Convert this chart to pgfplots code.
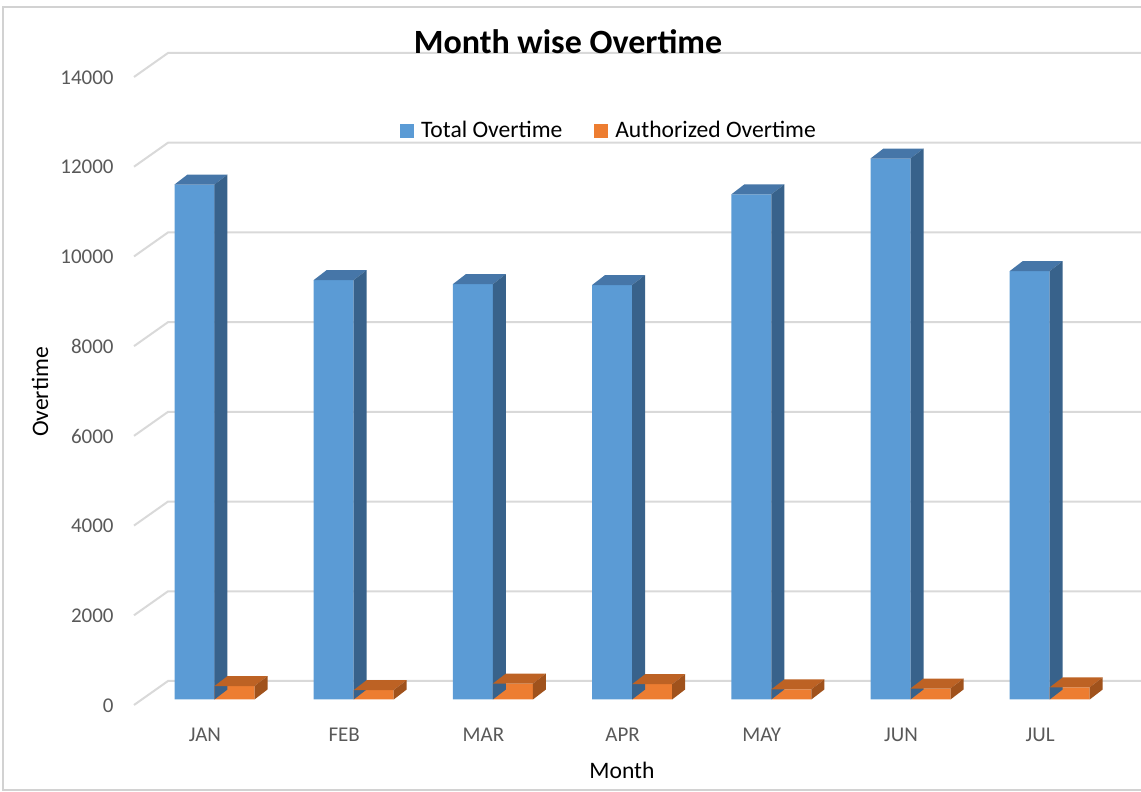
\documentclass[border=0pt]{standalone}
\usepackage{pgfplots}
\pgfplotsset{compat=1.18}
\usepackage{pgfplotstable}
\usepackage{fontspec}
\setmainfont{Carlito}

\definecolor{bfront}{HTML}{5B9BD5}
\definecolor{btop}{HTML}{4676A8}
\definecolor{bside}{HTML}{38628B}
\definecolor{ofront}{HTML}{ED7D31}
\definecolor{otop}{HTML}{BD6224}
\definecolor{oside}{HTML}{A0521C}
\definecolor{gridc}{HTML}{D9D9D9}
\definecolor{tickc}{HTML}{595959}

\pgfplotstableread{
m blue orange
JAN 11480 300
FEB 9350 210
MAR 9260 355
APR 9240 340
MAY 11260 225
JUN 12060 245
JUL 9550 270
}\data

% top and side faces of a 3D column; the mark sits at the top-right front corner
\newcommand\defbarmark[3]{%
\pgfdeclareplotmark{#1}{%
  \pgfsetfillcolor{#2}%
  \pgfpathmoveto{\pgfpoint{0pt}{0pt}}%
  \pgfpathlineto{\pgfpoint{-20pt}{0pt}}%
  \pgfpathlineto{\pgfpoint{-13.5pt}{5pt}}%
  \pgfpathlineto{\pgfpoint{6.5pt}{5pt}}%
  \pgfpathclose
  \pgfusepath{fill}%
  \pgfsetfillcolor{#3}%
  \pgfpathmoveto{\pgfpoint{0pt}{0pt}}%
  \pgfpathlineto{\pgfpoint{6.5pt}{5pt}}%
  \pgfpathlineto{\pgfpoint{6.5pt}{5pt-\hpt pt}}%
  \pgfpathlineto{\pgfpoint{0pt}{-\hpt pt}}%
  \pgfpathclose
  \pgfusepath{fill}%
}}
\defbarmark{bluebox}{btop}{bside}
\defbarmark{orangebox}{otop}{oside}

\begin{document}
\begin{tikzpicture}
\path[use as bounding box] (0,0) rectangle (570.5pt,396pt);
\draw[gray!35, line width=0.8pt] (1.5pt,1pt) rectangle (580pt,392.5pt);
\begin{axis}[
  at={(67.7pt,46.25pt)}, anchor=south west,
  scale only axis, width=487.2pt, height=314pt,
  xmin=-0.5, xmax=6.5, ymin=0, ymax=14000,
  clip=false,
  axis line style={draw=none},
  tick style={draw=none},
  major tick length=0pt,
  xtick={0,...,6},
  xticklabels={JAN,FEB,MAR,APR,MAY,JUN,JUL},
  ytick={0,2000,...,14000},
  scaled y ticks=false,
  /pgf/number format/1000 sep={},
  /pgf/number format/assume math mode=true,
  ticklabel style={font=\fontsize{10.5}{12}\selectfont, text=tickc},
  yticklabel style={anchor=east, inner sep=0pt, xshift=-10.7pt, yshift=-3pt},
  xticklabel style={anchor=center, inner sep=0pt, yshift=-17.75pt},
  legend style={draw=none, fill=none, legend columns=2,
    at={(0.487,0.905)}, anchor=center,
    font=\fontsize{11.8}{14}\selectfont,
    /tikz/every even column/.append style={column sep=14pt}},
  legend image code/.code={\fill[#1] (0pt,-3.5pt) rectangle (7pt,3.5pt); \path (8.5pt,0pt);},
]
\pgfplotsinvokeforeach{0,2000,4000,6000,8000,10000,12000,14000}{
  \draw[gridc, line width=1pt]
    ([shift={(-0.7pt,-2.75pt)}]axis cs:-0.5,#1) --
    ([shift={(16.3pt,9.25pt)}]axis cs:-0.5,#1) --
    ([shift={(0pt,9.25pt)}]axis cs:7.5,#1);
}
\addplot[ybar, bar width=0.2874, bar shift=-0.0754, fill=bfront, draw=none]
  table[x expr=\coordindex, y=blue] {\data};
\addlegendentry{Total Overtime}
\addplot[only marks, mark=bluebox, forget plot,
  visualization depends on={\thisrow{blue}*0.02242857 \as \hpt}]
  table[x expr=\coordindex+0.0682, y=blue] {\data};
\addplot[ybar, bar width=0.2874, bar shift=0.2119, fill=ofront, draw=none]
  table[x expr=\coordindex, y=orange] {\data};
\addlegendentry{Authorized Overtime}
\addplot[only marks, mark=orangebox, forget plot,
  visualization depends on={\thisrow{orange}*0.02242857 \as \hpt}]
  table[x expr=\coordindex+0.3556, y=orange] {\data};
\end{axis}
\node[font=\bfseries\fontsize{17}{20}\selectfont] at (284pt,375pt) {Month wise Overtime};
\node[rotate=90, font=\fontsize{11.8}{14}\selectfont] at (20pt,200pt) {Overtime};
\node[font=\fontsize{11.8}{14}\selectfont] at (311pt,11pt) {Month};
\end{tikzpicture}
\end{document}
